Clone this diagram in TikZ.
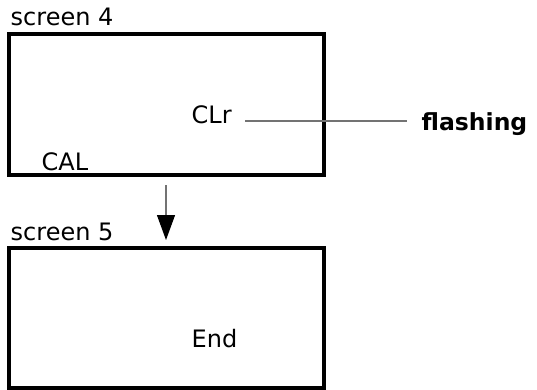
\documentclass[tikz,border=0pt]{standalone}
\usepackage{fontspec}
\setmainfont{DejaVu Sans}
\usetikzlibrary{arrows.meta}
\begin{document}
\begin{tikzpicture}[
        x=1pt, y=-1pt,
        every node/.style={font=\fontsize{24}{27}\selectfont, inner sep=0pt, anchor=base west},
        screenbox/.style={draw, line width=3.5pt, minimum width=315pt, anchor=center},
        leader/.style={draw=black!55, line width=1.1pt}
    ]
    \useasboundingbox (0,0) rectangle (537,390);

    % Screens
    \node[screenbox, minimum height=141pt] (s4) at (166.5,104.5) {};
    \node[screenbox, minimum height=139.7pt] (s5) at (166.5,317.9) {};

    % Screen titles
    \node (t4) at (10.5,26) {screen 4};
    \node (t5) at (10.5,240) {screen 5};

    % Display texts
    \node (clr) at (191.5,124) {CLr};
    \node (cal) at (41.5,170) {CAL};
    \node (end) at (191.5,347.5) {End};
    \node[font=\fontsize{23.5}{27}\selectfont\bfseries] (flash) at (421.5,130.5) {flashing};

    % Leader to flashing
    \coordinate (la) at (245,121);
    \coordinate (lb) at (407,121);
    \draw[leader] (la) -- (lb);

    % Step arrow
    \coordinate (aa) at (166,185);
    \coordinate (ab) at (166,240);
    \draw[leader, -{Triangle[width=18pt, length=25pt, black]}] (aa) -- (ab);
\end{tikzpicture}
\end{document}
